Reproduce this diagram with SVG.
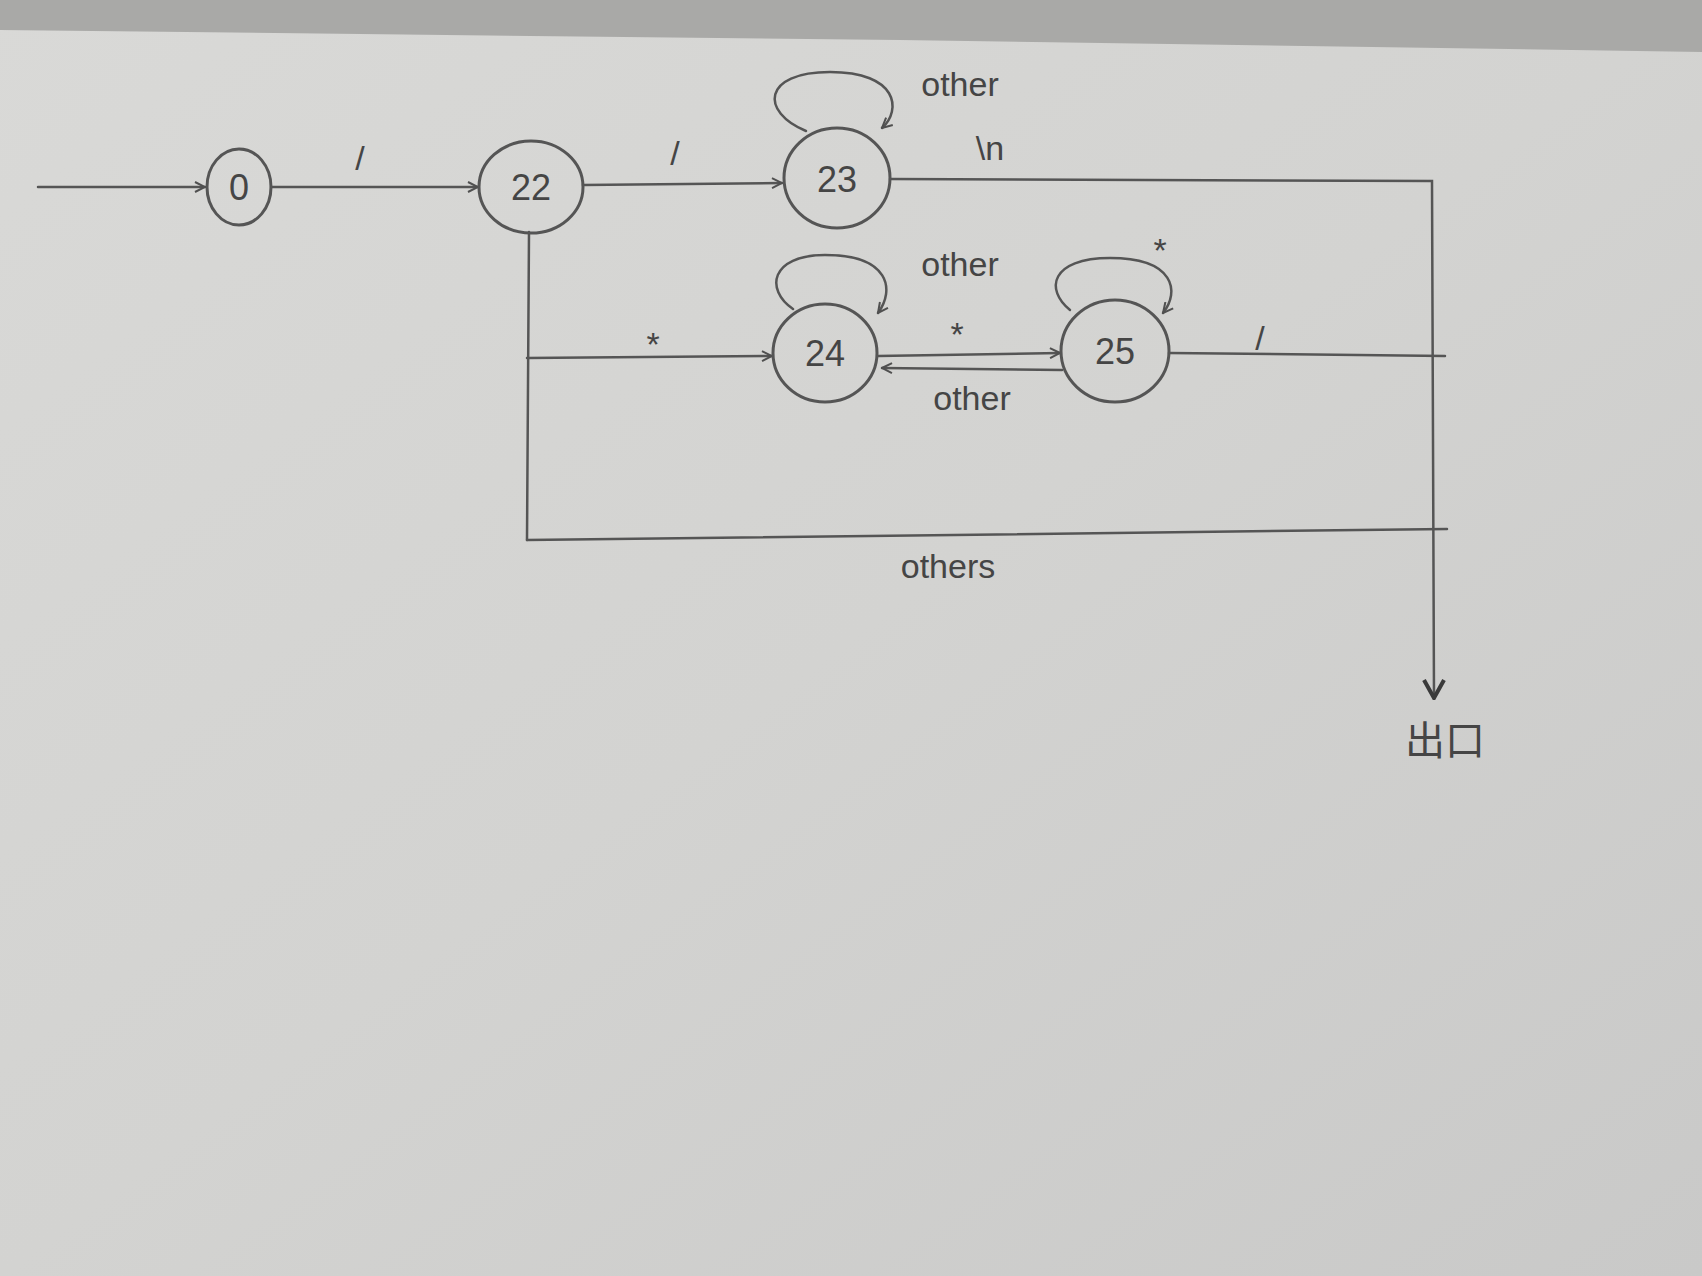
<svg xmlns="http://www.w3.org/2000/svg" width="1702" height="1276" viewBox="0 0 1702 1276">
<defs>
<linearGradient id="paper" x1="0" y1="0" x2="1" y2="1">
<stop offset="0" stop-color="#d9d9d7"/>
<stop offset="0.5" stop-color="#d3d3d1"/>
<stop offset="1" stop-color="#c9c9c8"/>
</linearGradient>
<marker id="arr" viewBox="0 0 12 12" refX="11" refY="6" markerWidth="12" markerHeight="12" markerUnits="userSpaceOnUse" orient="auto">
<path d="M1,1 L11,6 L1,11" fill="none" stroke="#505050" stroke-width="2"/>
</marker>
<marker id="arrBig" viewBox="0 0 24 24" refX="12" refY="22" markerWidth="24" markerHeight="24" markerUnits="userSpaceOnUse" orient="0">
<path d="M2,4 L12,22 L22,4" fill="none" stroke="#3a3a3a" stroke-width="4"/>
</marker>
</defs>
<style>
.ln{fill:none;stroke:#555;stroke-width:2.5;stroke-linecap:round}
.nd{fill:none;stroke:#555;stroke-width:3}
.t{font-family:"Liberation Sans",sans-serif;fill:#454545;text-anchor:middle}
.nl{font-size:36px}
.el{font-size:34px}
</style>
<rect width="1702" height="1276" fill="url(#paper)"/>
<polygon points="0,0 1702,0 1702,52 900,40 0,30" fill="#a9a9a7"/>

<g id="connectors">
<line class="ln" x1="38" y1="187" x2="205" y2="187" marker-end="url(#arr)"/>
<line class="ln" x1="271" y1="187" x2="478" y2="187" marker-end="url(#arr)"/>
<text class="t el" x="360" y="170">/</text>
<line class="ln" x1="583" y1="185" x2="782" y2="183" marker-end="url(#arr)"/>
<text class="t el" x="675" y="165">/</text>
<path class="ln" d="M806,131 C760,112 762,72 830,72 C898,72 902,110 882,128" marker-end="url(#arr)"/>
<text class="t el" x="960" y="96">other</text>
<path class="ln" d="M890,179 L1432,181 L1434,698" marker-end="url(#arrBig)"/>
<text class="t el" x="990" y="160">\n</text>
<line class="ln" x1="529" y1="232" x2="527" y2="540"/>
<line class="ln" x1="527" y1="358" x2="772" y2="356" marker-end="url(#arr)"/>
<text class="t el" x="653" y="356">*</text>
<path class="ln" d="M793,309 C765,290 770,255 825,255 C890,255 895,290 878,313" marker-end="url(#arr)"/>
<text class="t el" x="960" y="276">other</text>
<line class="ln" x1="878" y1="356" x2="1060" y2="353" marker-end="url(#arr)"/>
<text class="t el" x="957" y="346">*</text>
<line class="ln" x1="1062" y1="370" x2="882" y2="368" marker-end="url(#arr)"/>
<text class="t el" x="972" y="410">other</text>
<path class="ln" d="M1070,310 C1045,290 1050,258 1110,258 C1175,258 1180,292 1163,313" marker-end="url(#arr)"/>
<text class="t el" x="1160" y="262">*</text>
<line class="ln" x1="1169" y1="353" x2="1445" y2="356"/>
<text class="t el" x="1260" y="350">/</text>
<line class="ln" x1="527" y1="540" x2="1447" y2="529"/>
<text class="t el" x="948" y="578">others</text>
</g>

<g id="node-0">
<ellipse class="nd" cx="239" cy="187" rx="32" ry="38"/>
<text class="t nl" x="239" y="200">0</text>
</g>
<g id="node-22">
<ellipse class="nd" cx="531" cy="187" rx="52" ry="46"/>
<text class="t nl" x="531" y="200">22</text>
</g>
<g id="node-23">
<ellipse class="nd" cx="837" cy="178" rx="53" ry="50"/>
<text class="t nl" x="837" y="192">23</text>
</g>
<g id="node-24">
<ellipse class="nd" cx="825" cy="353" rx="52" ry="49"/>
<text class="t nl" x="825" y="366">24</text>
</g>
<g id="node-25">
<ellipse class="nd" cx="1115" cy="351" rx="54" ry="51"/>
<text class="t nl" x="1115" y="364">25</text>
</g>
<g id="exit">
<text class="t" x="1445" y="755" style="font-family:'Liberation Sans','Noto Sans CJK SC',sans-serif;font-size:40px">出口</text>
</g>
</svg>
